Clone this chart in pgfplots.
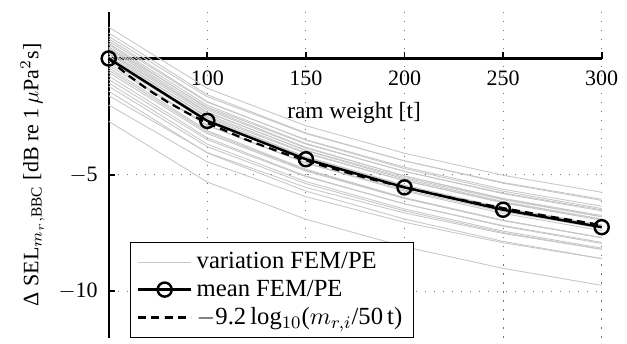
\documentclass[border=0pt]{standalone}
\usepackage{fontspec}
\setmainfont{Liberation Serif}
\usepackage{pgfplots}
\pgfplotsset{compat=1.18}
\usetikzlibrary{calc}
\begin{document}
\begin{tikzpicture}
\begin{axis}[
  scale only axis=true,
  width=224pt, height=148pt,
  xmin=50, xmax=300, ymin=-12, ymax=2,
  axis x line*=middle, axis y line*=left,
  axis line style={-, line width=1.1pt},
  xtick={100,150,200,250,300},
  ytick={-10,-5},
  tick align=inside,
  major tick length=3pt,
  tick style={line width=0.8pt, black},
  grid=major,
  grid style={black!55, line width=0.5pt, dash pattern=on 0.6pt off 3.5pt},
  /pgf/number format/assume math mode=true,
  xticklabel style={yshift=-2pt},
  yticklabel style={xshift=-1.5pt},
  yticklabels={$-$10,$-$5},
  xlabel={ram weight [t]},
  xlabel style={at={(axis description cs:0.4976,0.69)}, anchor=center, font=\fontsize{10.6pt}{12pt}\selectfont},
  ylabel={Δ SEL$_{m_r,\mathrm{BBC}}$ [dB re 1$\,\mu$Pa$^2$s]},
  ylabel style={at={(axis description cs:-0.1545,0.5)}, anchor=center},
  legend cell align=left,
  legend style={at={(axis description cs:0.043,0)}, anchor=south west,
    draw=black, line width=0.5pt, fill=white, inner xsep=3pt, inner ysep=2.5pt,
    row sep=0pt, nodes={font=\fontsize{11.2pt}{13pt}\selectfont, inner ysep=1.8pt, inner xsep=2pt},
    /tikz/every even column/.append style={column sep=0pt}},
  legend image code/.code={\draw[mark repeat=2,mark phase=2] plot coordinates {(0pt,0pt) (12pt,0pt) (24pt,0pt)};},
  every axis plot/.append style={line join=round},
  clip=false,
]
\coordinate (SW) at (rel axis cs:0,0);
\coordinate (NE) at (rel axis cs:1,1);
\pgfplotsset{gl/.style={black!22, line width=0.4pt}}
\addplot[gl] coordinates {(50,1.35) (100,-1.28) (150,-2.89) (200,-4.07) (250,-5.02) (300,-5.75)};
\addplot[gl,forget plot] coordinates {(50,1.10) (100,-1.56) (150,-3.20) (200,-4.40) (250,-5.36) (300,-6.10)};
\addplot[gl,forget plot] coordinates {(50,0.95) (100,-1.64) (150,-3.23) (200,-4.40) (250,-5.33) (300,-6.05)};
\addplot[gl,forget plot] coordinates {(50,0.85) (100,-1.85) (150,-3.51) (200,-4.73) (250,-5.70) (300,-6.45)};
\addplot[gl,forget plot] coordinates {(50,0.75) (100,-1.88) (150,-3.49) (200,-4.67) (250,-5.62) (300,-6.35)};
\addplot[gl,forget plot] coordinates {(50,0.65) (100,-2.01) (150,-3.65) (200,-4.85) (250,-5.81) (300,-6.55)};
\addplot[gl,forget plot] coordinates {(50,0.60) (100,-2.14) (150,-3.82) (200,-5.05) (250,-6.04) (300,-6.80)};
\addplot[gl,forget plot] coordinates {(50,0.50) (100,-2.09) (150,-3.68) (200,-4.85) (250,-5.78) (300,-6.50)};
\addplot[gl,forget plot] coordinates {(50,0.45) (100,-2.21) (150,-3.85) (200,-5.05) (250,-6.01) (300,-6.75)};
\addplot[gl,forget plot] coordinates {(50,0.40) (100,-2.30) (150,-3.96) (200,-5.18) (250,-6.15) (300,-6.90)};
\addplot[gl,forget plot] coordinates {(50,0.30) (100,-2.33) (150,-3.94) (200,-5.12) (250,-6.07) (300,-6.80)};
\addplot[gl,forget plot] coordinates {(50,0.25) (100,-2.41) (150,-4.05) (200,-5.25) (250,-6.21) (300,-6.95)};
\addplot[gl,forget plot] coordinates {(50,0.20) (100,-2.54) (150,-4.22) (200,-5.45) (250,-6.44) (300,-7.20)};
\addplot[gl,forget plot] coordinates {(50,0.10) (100,-2.49) (150,-4.08) (200,-5.25) (250,-6.18) (300,-6.90)};
\addplot[gl,forget plot] coordinates {(50,0.05) (100,-2.61) (150,-4.25) (200,-5.45) (250,-6.41) (300,-7.15)};
\addplot[gl,forget plot] coordinates {(50,0.00) (100,-2.70) (150,-4.36) (200,-5.58) (250,-6.55) (300,-7.30)};
\addplot[gl,forget plot] coordinates {(50,-0.10) (100,-2.73) (150,-4.34) (200,-5.52) (250,-6.47) (300,-7.20)};
\addplot[gl,forget plot] coordinates {(50,-0.20) (100,-2.86) (150,-4.50) (200,-5.70) (250,-6.66) (300,-7.40)};
\addplot[gl,forget plot] coordinates {(50,-0.30) (100,-2.89) (150,-4.48) (200,-5.65) (250,-6.58) (300,-7.30)};
\addplot[gl,forget plot] coordinates {(50,-0.40) (100,-3.10) (150,-4.76) (200,-5.98) (250,-6.95) (300,-7.70)};
\addplot[gl,forget plot] coordinates {(50,-0.50) (100,-3.16) (150,-4.80) (200,-6.00) (250,-6.96) (300,-7.70)};
\addplot[gl,forget plot] coordinates {(50,-0.60) (100,-3.23) (150,-4.84) (200,-6.02) (250,-6.97) (300,-7.70)};
\addplot[gl,forget plot] coordinates {(50,-0.75) (100,-3.41) (150,-5.05) (200,-6.25) (250,-7.21) (300,-7.95)};
\addplot[gl,forget plot] coordinates {(50,-0.90) (100,-3.49) (150,-5.08) (200,-6.25) (250,-7.18) (300,-7.90)};
\addplot[gl,forget plot] coordinates {(50,-1.05) (100,-3.68) (150,-5.29) (200,-6.47) (250,-7.42) (300,-8.15)};
\addplot[gl,forget plot] coordinates {(50,-1.20) (100,-3.79) (150,-5.38) (200,-6.55) (250,-7.48) (300,-8.20)};
\addplot[gl,forget plot] coordinates {(50,-1.40) (100,-4.06) (150,-5.70) (200,-6.90) (250,-7.86) (300,-8.60)};
\addplot[gl,forget plot] coordinates {(50,-1.60) (100,-4.04) (150,-5.54) (200,-6.64) (250,-7.52) (300,-8.20)};
\addplot[gl,forget plot] coordinates {(50,-2.00) (100,-4.44) (150,-5.94) (200,-7.04) (250,-7.92) (300,-8.60)};
\addplot[gl,forget plot] coordinates {(50,-2.70) (100,-5.31) (150,-6.91) (200,-8.09) (250,-9.02) (300,-9.75)};
\addplot[black, line width=1.1pt, mark=o, mark size=3.2pt, mark options={solid, line width=1.1pt, fill=none}]
  coordinates {(50,0) (100,-2.68) (150,-4.33) (200,-5.54) (250,-6.50) (300,-7.25)};
\addplot[black, line width=1pt, dash pattern=on 3.6pt off 2.4pt]
  coordinates {(50,0) (55,-0.381) (60,-0.728) (70,-1.344) (80,-1.878) (90,-2.348) (100,-2.769)
    (120,-3.498) (140,-4.114) (160,-4.647) (180,-5.118) (200,-5.539) (225,-6.010)
    (250,-6.431) (275,-6.811) (300,-7.159)};
\legend{variation FEM/PE, mean FEM/PE, {$-$9.2\,log$_{10}$($m_{r,i}$/50\,t)}}
\end{axis}
\pgfresetboundingbox
\path ($(SW)+(-49.4pt,-2.7pt)$) rectangle ($(NE)+(11.5pt,5.45pt)$);
\end{tikzpicture}
\end{document}
